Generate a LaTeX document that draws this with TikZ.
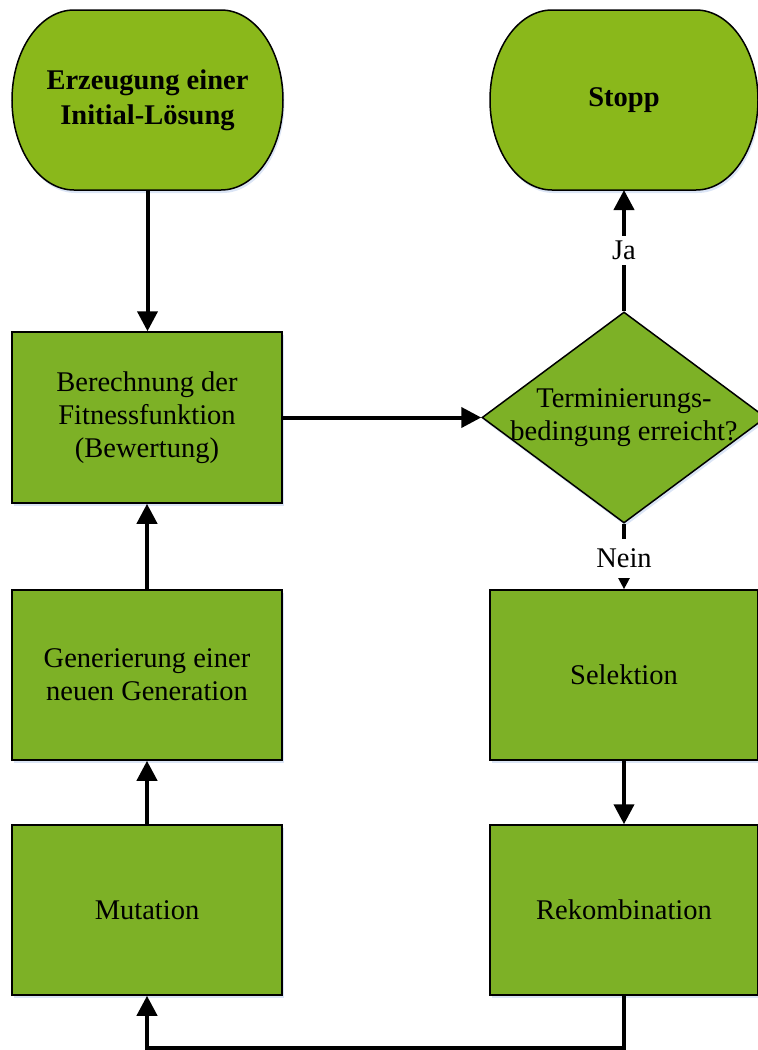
\documentclass[tikz,border=0pt]{standalone}
\usepackage{fontspec}
\setmainfont{Liberation Serif}
\usetikzlibrary{arrows.meta,shapes.geometric,shadows,backgrounds,calc}

\definecolor{termgreen}{RGB}{138,184,27}
\definecolor{boxgreen}{RGB}{125,177,38}
\definecolor{shadowblue}{RGB}{190,208,238}

% terminator outline with elliptical ends, drawn around a named node
\newcommand\drawterminal[1]{%
  \path[termshape] ($(#1.north west)+(62,0)$) -- ($(#1.north east)+(-62,0)$)
    .. controls +(34.24,0) and +(0,-49.7) .. (#1.east)
    .. controls +(0,49.7) and +(34.24,0) .. ($(#1.south east)+(-62,0)$)
    -- ($(#1.south west)+(62,0)$)
    .. controls +(-34.24,0) and +(0,49.7) .. (#1.west)
    .. controls +(0,-49.7) and +(-34.24,0) .. ($(#1.north west)+(62,0)$)
    -- cycle;}

\tikzset{
  txt/.style={font=\fontsize{28.5}{33}\selectfont},
  softshadow/.style={drop shadow={shadow xshift=1.5pt, shadow yshift=-3pt,
      fill=shadowblue, opacity=0.55}},
  outline/.style={draw=black, line width=1.5pt},
  termshape/.style={outline, fill=termgreen, softshadow},
  terminal/.style={rectangle, draw=none, minimum width=271pt, minimum height=180pt,
      inner sep=0pt, outer sep=0pt, align=center, txt, font=\fontsize{28.5}{35}\selectfont\bfseries},
  box/.style={rectangle, outline, fill=boxgreen, softshadow, minimum width=270pt,
      minimum height=170pt, inner sep=0pt, align=center, txt},
  decision/.style={diamond, outline, fill=boxgreen, softshadow, minimum width=284pt,
      minimum height=211pt, inner sep=0pt},
  flow/.style={line width=4pt, -{Triangle[length=20pt,width=20pt]}},
  lab/.style={fill=white, inner sep=5pt, txt}
}

\begin{document}
\begin{tikzpicture}[x=1pt, y=-1pt]
  \useasboundingbox (0,0) rectangle (758,1050);

  % nodes
  \node[terminal] (start) at (147.5,100) {Erzeugung einer\\Initial-Lösung};
  \node[terminal, minimum width=268pt] (stopp) at (624,100) {Stopp};
  \node[box, minimum height=171pt] (fit) at (147,417.5) {Berechnung der\\Fitnessfunktion\\(Bewertung)};
  \node[decision, label={[align=center, txt]center:Terminierungs-\\bedingung erreicht?}] (cond) at (624,417.5) {};
  \node[box, minimum width=268pt] (sel) at (624,675) {Selektion};
  \node[box] (gen) at (147,675) {Generierung einer\\neuen Generation};
  \node[box] (mut) at (147,910) {Mutation};
  \node[box, minimum width=268pt] (rek) at (624,910) {Rekombination};

  % terminator outlines behind their texts
  \begin{scope}[on background layer]
    \drawterminal{start}
    \drawterminal{stopp}
  \end{scope}

  % connectors
  \draw[flow] (start.south) -- (start.south |- fit.north);
  \draw[flow] (fit.east) -- (cond.west);
  \draw[flow] (cond.north) -- node[lab] {Ja} (stopp.south);
  \draw[flow] (cond.south) -- node[lab, inner ysep=10pt, pos=0.53] {Nein} (sel.north);
  \draw[flow] (sel.south) -- (rek.north);
  \draw[flow] (rek.south) -- ++(0,52) -| (mut.south);
  \draw[flow] (mut.north) -- (gen.south);
  \draw[flow] (gen.north) -- (fit.south);
\end{tikzpicture}
\end{document}
